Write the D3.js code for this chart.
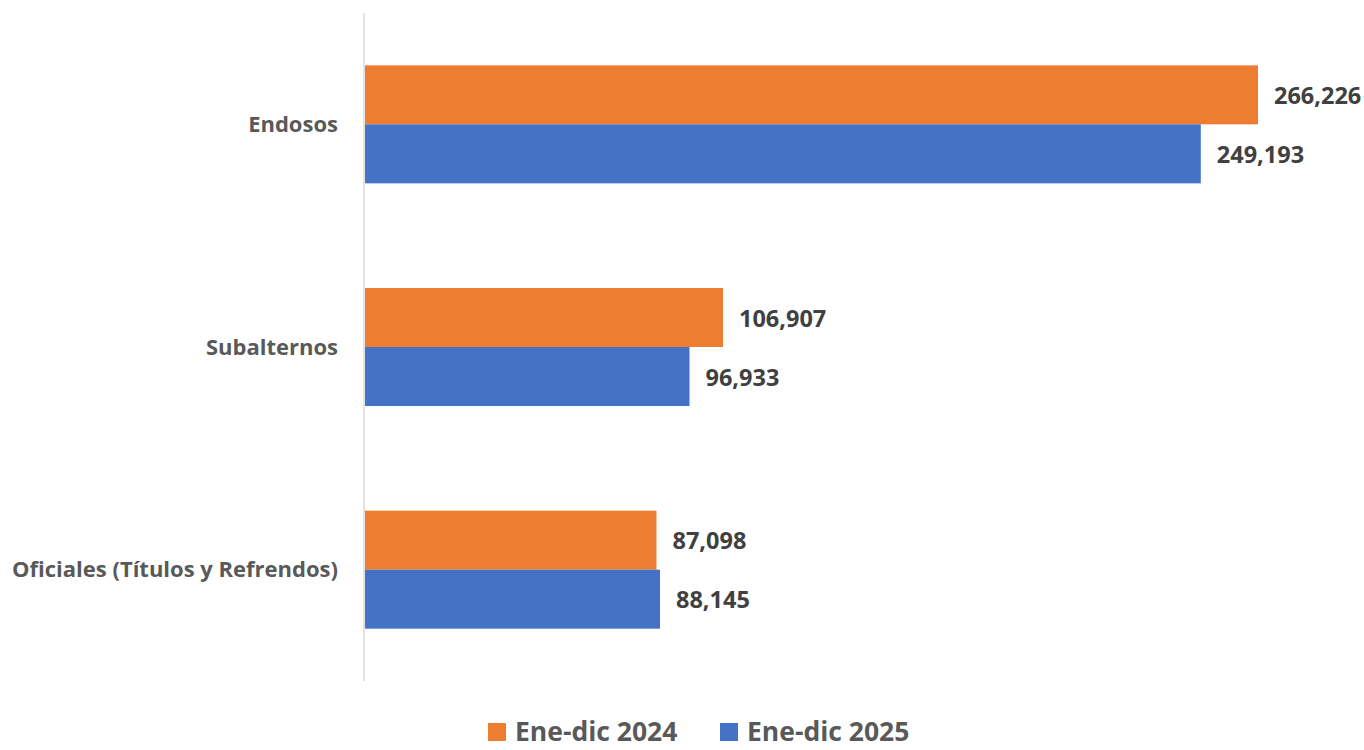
<!DOCTYPE html>
<html>
<head>
<meta charset="utf-8">
<script src="https://cdn.jsdelivr.net/npm/d3@7"></script>
<style>
  body { margin: 0; background: #fff; }
  text { font-family: "Open Sans", "Noto Sans", sans-serif; font-weight: bold; }
</style>
</head>
<body>
<svg id="chart" width="1364" height="750"></svg>
<script>
// data
const categories = ["Endosos", "Subalternos", "Oficiales (Títulos y Refrendos)"];
const seriesNames = ["Ene-dic 2024", "Ene-dic 2025"];
const values2024 = [266226, 106907, 87098];
const values2025 = [249193, 96933, 88145];
const colors = ["#ED7D31", "#4472C4"];

const svg = d3.select("#chart");

const plotLeft = 364, plotTop = 13, plotBottom = 681;

const x = d3.scaleLinear().domain([0, 300000]).range([plotLeft, plotLeft + 1007.4]);
const y0 = d3.scaleBand().domain(categories).range([plotTop, plotBottom]).paddingInner(0.47).paddingOuter(0.235);
const y1 = d3.scaleBand().domain(seriesNames).range([0, y0.bandwidth()]);

const rows = categories.map((c, i) => ({cat: c, vals: [values2024[i], values2025[i]]}));
const fmt = d3.format(",");

// bars
const grp = svg.append("g").selectAll("g")
  .data(rows).enter().append("g")
  .attr("transform", d => `translate(0,${y0(d.cat)})`);

grp.selectAll("rect")
  .data(d => d.vals.map((v, j) => ({v, s: seriesNames[j], j})))
  .enter().append("rect")
  .attr("x", x(0) + 1)
  .attr("y", d => y1(d.s))
  .attr("width", d => x(d.v) - x(0) - 1)
  .attr("height", y1.bandwidth())
  .attr("fill", d => colors[d.j]);

grp.selectAll("text")
  .data(d => d.vals.map((v, j) => ({v, s: seriesNames[j]})))
  .enter().append("text")
  .attr("x", d => x(d.v) + 16)
  .attr("y", d => y1(d.s) + y1.bandwidth() / 2 + 1)
  .attr("dy", "0.35em")
  .attr("font-size", "23.5px")
  .attr("fill", "#404040")
  .text(d => fmt(d.v));

// category axis
svg.append("line")
  .attr("x1", plotLeft).attr("x2", plotLeft)
  .attr("y1", plotTop).attr("y2", plotBottom)
  .attr("stroke", "#d9d9d9").attr("stroke-width", 1.5);

svg.append("g").selectAll("text")
  .data(categories).enter().append("text")
  .attr("x", plotLeft - 26)
  .attr("y", d => y0(d) + y0.bandwidth() / 2)
  .attr("dy", "0.35em")
  .attr("text-anchor", "end")
  .attr("font-size", "22px")
  .attr("fill", "#595959")
  .text(d => d);

// legend
const legendX = [488, 720];
const leg = svg.append("g").selectAll("g")
  .data(seriesNames).enter().append("g")
  .attr("transform", (d, i) => `translate(${legendX[i]},723)`);
leg.append("rect").attr("width", 18).attr("height", 18).attr("fill", (d, i) => colors[i]);
leg.append("text")
  .attr("x", 27).attr("y", 18)
  .attr("font-size", "26.5px")
  .attr("fill", "#595959")
  .text(d => d);
</script>
</body>
</html>
